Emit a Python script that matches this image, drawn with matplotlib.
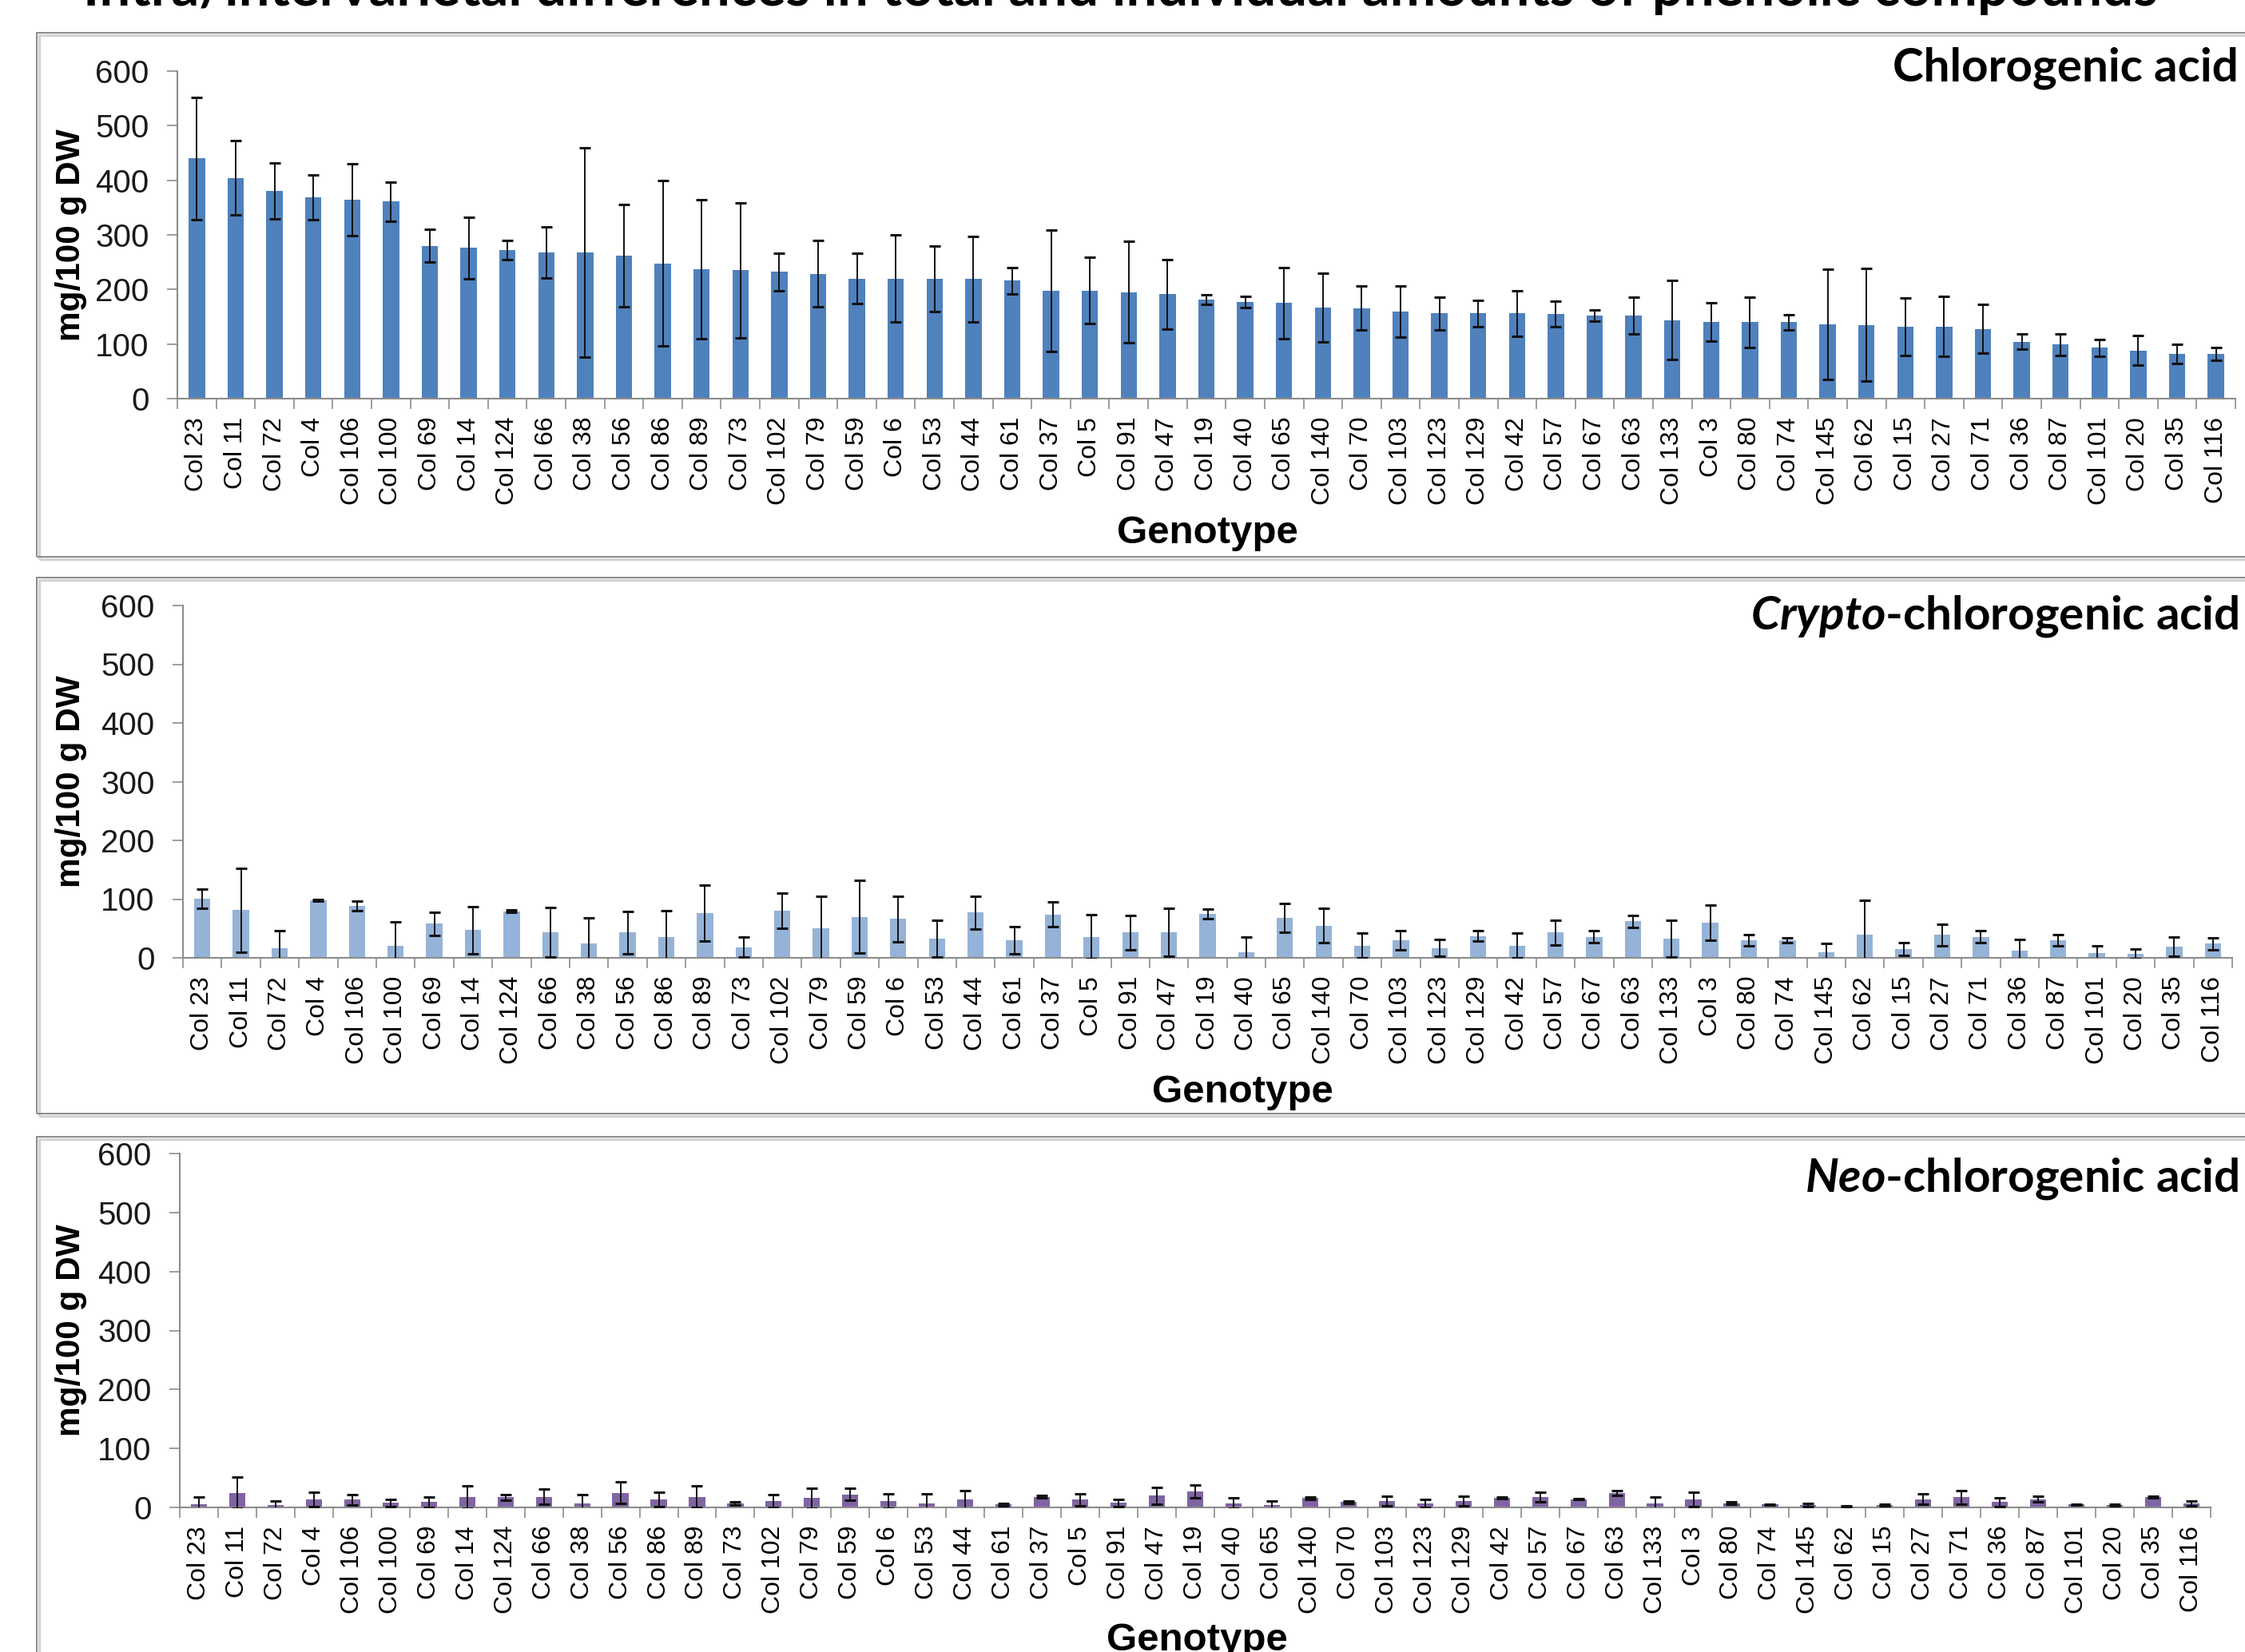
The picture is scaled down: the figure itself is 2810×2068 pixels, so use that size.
import matplotlib
matplotlib.use("Agg")
import matplotlib.pyplot as plt
from matplotlib.patches import Rectangle
import numpy as np

# ---------------------------------------------------------------- data
genotypes = ["Col 23", "Col 11", "Col 72", "Col 4", "Col 106", "Col 100", "Col 69",
             "Col 14", "Col 124", "Col 66", "Col 38", "Col 56", "Col 86", "Col 89",
             "Col 73", "Col 102", "Col 79", "Col 59", "Col 6", "Col 53", "Col 44",
             "Col 61", "Col 37", "Col 5", "Col 91", "Col 47", "Col 19", "Col 40",
             "Col 65", "Col 140", "Col 70", "Col 103", "Col 123", "Col 129", "Col 42",
             "Col 57", "Col 67", "Col 63", "Col 133", "Col 3", "Col 80", "Col 74",
             "Col 145", "Col 62", "Col 15", "Col 27", "Col 71", "Col 36", "Col 87",
             "Col 101", "Col 20", "Col 35", "Col 116"]

chlorogenic_mean = [440, 404, 380, 369, 364, 361, 280, 276, 272, 268, 268, 262, 248, 237,
                    235, 232, 229, 220, 220, 219, 219, 216, 198, 198, 195, 191, 181, 177,
                    175, 167, 166, 159, 156, 156, 156, 155, 152, 152, 144, 140, 140, 140,
                    136, 135, 132, 132, 128, 104, 99, 93, 88, 82, 82]
chlorogenic_sd = [112, 68, 51, 41, 66, 36, 30, 56, 18, 47, 192, 93, 151, 127,
                  124, 35, 61, 46, 80, 60, 78, 24, 111, 61, 93, 64, 9, 10,
                  65, 63, 40, 47, 30, 24, 42, 24, 10, 34, 72, 35, 46, 14,
                  101, 103, 53, 55, 44, 14, 20, 16, 27, 17, 12]

crypto_mean = [101, 81, 17, 98, 88, 21, 58, 47, 79, 44, 24, 43, 36, 76,
               18, 80, 51, 70, 66, 33, 77, 30, 74, 36, 43, 44, 75, 10,
               68, 55, 21, 30, 17, 37, 21, 43, 36, 62, 33, 60, 30, 30,
               10, 39, 15, 39, 36, 12, 30, 8, 7, 19, 24]
crypto_sd = [16, 72, 29, 2, 8, 40, 20, 40, 2, 42, 44, 36, 44, 48,
             17, 30, 54, 62, 39, 31, 28, 23, 21, 38, 29, 41, 8, 25,
             24, 29, 21, 16, 14, 9, 21, 21, 10, 10, 31, 30, 9, 4,
             14, 59, 11, 18, 10, 19, 9, 12, 8, 16, 10]

neo_mean = [5, 25, 4, 14, 13, 8, 9, 17, 17, 18, 7, 25, 14, 18,
            7, 11, 16, 22, 11, 7, 13, 5, 18, 13, 8, 20, 27, 7,
            4, 16, 9, 11, 7, 11, 16, 18, 14, 24, 7, 14, 7, 5,
            4, 2, 4, 14, 17, 9, 14, 5, 4, 18, 7]
neo_sd = [12, 26, 7, 12, 9, 6, 9, 19, 5, 13, 15, 18, 12, 18,
          3, 11, 17, 10, 12, 16, 16, 2, 2, 10, 6, 14, 11, 9,
          7, 2, 2, 8, 7, 8, 1, 8, 1, 4, 10, 12, 2, 1,
          3, 1, 1, 9, 12, 7, 5, 1, 1, 1.5, 4]

y_ticks = [0, 100, 200, 300, 400, 500, 600]

title = "Intra/intervarietal differences in total and individual amounts of phenolic compounds"

# ---------------------------------------------------------------- style
W, H, DPI = 2810, 2068, 100
plt.rcParams['font.family'] = ['Liberation Sans', 'DejaVu Sans']
plt.rcParams['mathtext.fontset'] = 'custom'
plt.rcParams['mathtext.it'] = 'Lato:italic:bold'
plt.rcParams['mathtext.rm'] = 'Lato:bold'
plt.rcParams['mathtext.bf'] = 'Lato:bold'

AXIS_GREY = '#8c8c8c'

fig = plt.figure(figsize=(W / DPI, H / DPI), dpi=DPI)
fig.patch.set_facecolor('white')


def fx(px):
    return px / W


def fy(py):
    return 1 - py / H


# chart-area frames with a soft shadow
for left, top, bottom in [(46, 41, 697), (46, 723, 1394), (46, 1423, 2110)]:
    fig.patches.append(Rectangle((fx(left + 3), fy(bottom + 3)), fx(2860 - left),
                                 (bottom - top) / H, transform=fig.transFigure,
                                 fill=False, edgecolor='#d4d4d4', lw=2.5, zorder=0))
    fig.patches.append(Rectangle((fx(left), fy(bottom)), fx(2860 - left),
                                 (bottom - top) / H, transform=fig.transFigure,
                                 fill=False, edgecolor='#8a8a8a', lw=1.4, zorder=1))

panels = [
    dict(mean=chlorogenic_mean, sd=chlorogenic_sd, color='#4F81BD',
         box=(222, 2798, 499, 89), label=r'Chlorogenic acid', label_y=85,
         geno=(1511, 667)),
    dict(mean=crypto_mean, sd=crypto_sd, color='#95B3D7',
         box=(229, 2794, 1199, 758), label=r'$\mathit{Crypto}$-chlorogenic acid',
         label_y=771, geno=(1555, 1367)),
    dict(mean=neo_mean, sd=neo_sd, color='#8064A2',
         box=(225, 2767, 1887, 1444), label=r'$\mathit{Neo}$-chlorogenic acid',
         label_y=1475, geno=(1498, 2053)),
]

n = len(genotypes)
x = np.arange(n)

for p in panels:
    left, right, y0, ytop = p['box']
    ax = fig.add_axes([fx(left), fy(y0), fx(right - left), (y0 - ytop) / H])
    ax.bar(x, p['mean'], width=0.42, color=p['color'], zorder=2)
    ax.errorbar(x, p['mean'], yerr=p['sd'], fmt='none', ecolor='#111111',
                elinewidth=1.4, capsize=4.9, capthick=2.2, zorder=3)

    ax.set_xlim(-0.5, n - 0.5)
    ax.set_ylim(0, 600)
    ax.set_xticks(np.arange(n + 1) - 0.5)
    ax.set_xticklabels([])
    ax.set_xticks(x, minor=True)
    ax.set_xticklabels(genotypes, minor=True, rotation=90, fontsize=23)
    ax.tick_params(axis='x', which='major', length=9.4, width=1.2,
                   color=AXIS_GREY, direction='out')
    ax.tick_params(axis='x', which='minor', length=0, pad=16.5)
    ax.set_yticks(y_ticks)
    ax.set_yticklabels([str(v) for v in y_ticks])
    ax.tick_params(axis='y', length=9.4, width=1.2, color=AXIS_GREY,
                   pad=16, labelsize=29, labelcolor='#1a1a1a')
    for side in ('top', 'right'):
        ax.spines[side].set_visible(False)
    for side in ('left', 'bottom'):
        ax.spines[side].set_color(AXIS_GREY)
        ax.spines[side].set_linewidth(1.5)
    ax.set_facecolor('none')

    fig.text(fx(89), fy((y0 + ytop) / 2), 'mg/100 g DW', rotation=90,
             fontsize=30.5, fontweight='bold', ha='center', va='center')
    fig.text(fx(p['geno'][0]), fy(p['geno'][1]), 'Genotype', fontsize=35.5,
             fontweight='bold', ha='center', va='center')
    fig.text(fx(2802), fy(p['label_y']), p['label'], family='Lato',
             fontweight='bold', fontsize=42, ha='right', va='center')

fig.text(fx(1402), fy(7), title, family='Lato', fontweight='bold',
         fontsize=49.5, ha='center', va='baseline')

fig.savefig('out.png', dpi=DPI, facecolor='white')
